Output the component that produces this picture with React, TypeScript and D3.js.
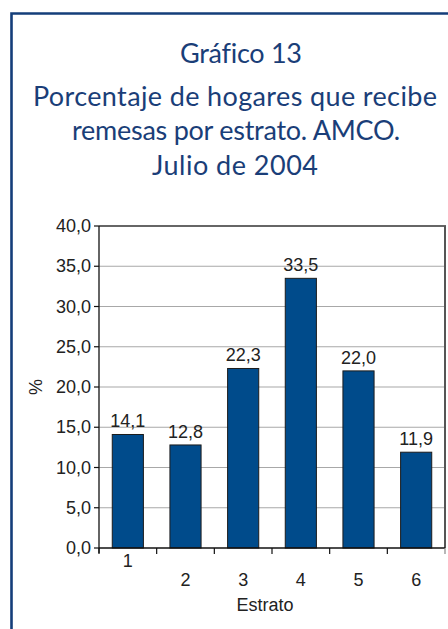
import React from 'react';
import * as d3 from 'd3';

// chart data
const estratos = ['1', '2', '3', '4', '5', '6'];
const porcentajes = [14.1, 12.8, 22.3, 33.5, 22.0, 11.9];
const yTicks = [0, 5, 10, 15, 20, 25, 30, 35, 40];
const titleLines = [
  'Gráfico 13',
  'Porcentaje de hogares que recibe',
  'remesas por estrato. AMCO.',
  'Julio de 2004',
];

const W = 448;
const H = 629;

const App = () => {
  // plot area
  const left = 99;
  const right = 445;
  const top = 226;
  const bottom = 548;

  const x = d3.scaleBand<string>()
    .domain(estratos)
    .range([left, right])
    .paddingInner(0.46)
    .paddingOuter(0.23);

  const y = d3.scaleLinear().domain([0, 40]).range([bottom, top]);

  const fmt = (v: number) => d3.format('.1f')(v).replace('.', ',');
  const step = x.step();
  const boundaries = d3.range(estratos.length + 1).map(i => left + i * step);

  const titleColor = '#1a3e78';
  const barColor = '#004b8b';
  const axisFont = "'Liberation Sans', Arial, sans-serif";

  // title layout: baseline, centre, width
  const titleLayout = [
    { y: 63, cx: 241, w: 122 },
    { y: 106, cx: 235, w: 404 },
    { y: 140, cx: 236, w: 328 },
    { y: 175, cx: 235, w: 166 },
  ];

  return (
    <svg
      width={W}
      height={H}
      style={{ position: 'absolute', left: 0, top: 0, background: '#fff' }}
    >
      {/* frame */}
      <path
        d={`M11.5,${H + 10} L11.5,13.5 L${W + 10},13.5`}
        fill="none"
        stroke="#143e7a"
        strokeWidth={2.6}
      />

      {/* title */}
      <g
        fill={titleColor}
        fontFamily="Lato, 'Open Sans', sans-serif"
        fontSize={27}
        style={{ fontVariantLigatures: 'none' }}
      >
        {titleLines.map((t, i) => (
          <text
            key={i}
            x={titleLayout[i].cx - titleLayout[i].w / 2}
            y={titleLayout[i].y}
            textLength={titleLayout[i].w}
            lengthAdjust="spacing"
          >
            {t}
          </text>
        ))}
      </g>

      {/* gridlines */}
      {yTicks.filter(t => t > 0 && t < 40).map(t => (
        <line key={t} x1={left} x2={right} y1={y(t)} y2={y(t)} stroke="#a8a8a8" strokeWidth={1.2} />
      ))}

      {/* plot border top/right */}
      <line x1={left} x2={right + 1} y1={top} y2={top} stroke="#333" strokeWidth={1.3} />
      <line x1={right} x2={right} y1={top} y2={bottom} stroke="#555" strokeWidth={2} />

      {/* bars */}
      {porcentajes.map((v, i) => (
        <rect
          key={i}
          x={x(estratos[i])}
          y={y(v)}
          width={x.bandwidth()}
          height={y(0) - y(v)}
          fill={barColor}
          stroke="#1c1c1c"
          strokeWidth={1}
        />
      ))}

      {/* value labels */}
      <g fontFamily={axisFont} fontSize={18} fill="#222" textAnchor="middle">
        {porcentajes.map((v, i) => (
          <text key={i} x={x(estratos[i])! + x.bandwidth() / 2} y={y(v) - 7}>
            {fmt(v)}
          </text>
        ))}
      </g>

      {/* y axis */}
      <line x1={left} x2={left} y1={top} y2={bottom + 5} stroke="#111" strokeWidth={1.3} />
      <g fontFamily={axisFont} fontSize={18} fill="#222" textAnchor="end">
        {yTicks.map(t => (
          <g key={t}>
            <line x1={left - 5} x2={left} y1={y(t)} y2={y(t)} stroke="#111" strokeWidth={1.2} />
            <text x={91} y={y(t) + 6}>{fmt(t)}</text>
          </g>
        ))}
      </g>

      {/* x axis */}
      <line x1={left} x2={right} y1={bottom} y2={bottom} stroke="#111" strokeWidth={1.5} />
      {boundaries.map((b, i) => (
        <line
          key={i}
          x1={b}
          x2={b}
          y1={bottom}
          y2={bottom + 6}
          stroke={i === boundaries.length - 1 ? '#888' : '#111'}
          strokeWidth={1.2}
        />
      ))}
      <g fontFamily={axisFont} fontSize={18} fill="#222" textAnchor="middle">
        {estratos.map((c, i) => (
          <text key={c} x={x(c)! + x.bandwidth() / 2} y={i === 0 ? 567 : 586}>
            {c}
          </text>
        ))}
        <text x={265} y={611}>Estrato</text>
        <text transform={`translate(42,${(top + bottom) / 2}) rotate(-90)`}>%</text>
      </g>
    </svg>
  );
};

export default App;
